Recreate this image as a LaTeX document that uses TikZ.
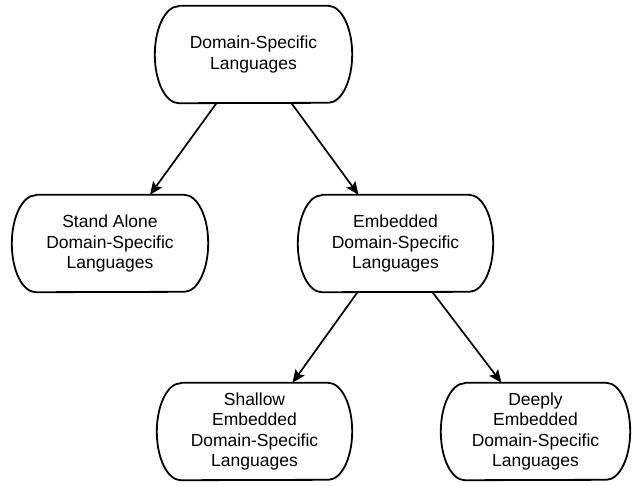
\documentclass[tikz,border=0pt]{standalone}
\usepackage{fontspec}
\setmainfont{Liberation Sans}
\usetikzlibrary{arrows.meta,calc}
\newcommand\pillshape[1]{%
  \draw[pillline] ($(#1.north west)+(24,0)$) -- ($(#1.north east)+(-24,0)$)
    arc[start angle=90,end angle=-90,x radius=24,y radius=-48.5]
    -- ($(#1.south west)+(24,0)$)
    arc[start angle=270,end angle=90,x radius=24,y radius=-48.5] -- cycle;}
\begin{document}
\begin{tikzpicture}[x=1pt,y=-1pt,
  pillline/.style={line width=1.8pt,line join=round},
  pilltext/.style={draw=none,inner sep=0pt,minimum height=97pt,align=center,
     font=\fontsize{17.5}{20.5}\selectfont},
  link/.style={line width=1.7pt,-{Stealth[length=13pt,width=11pt,inset=2.5pt]}}]
\useasboundingbox (0,0) rectangle (632,485);
\node[pilltext,minimum width=197pt] (top) at (253.5,54.5) {Domain-Specific\\Languages};
\node[pilltext,minimum width=196pt] (sa) at (110,243.5) {Stand Alone\\Domain-Specific\\Languages};
\node[pilltext,minimum width=195pt] (emb) at (395.5,243.5) {Embedded\\Domain-Specific\\Languages};
\node[pilltext,minimum width=195pt] (sh) at (254.5,431.5) {Shallow\\Embedded\\Domain-Specific\\Languages};
\node[pilltext,minimum width=189pt] (dp) at (535.5,431.5) {Deeply\\Embedded\\Domain-Specific\\Languages};
\pillshape{top}
\pillshape{sa}
\pillshape{emb}
\pillshape{sh}
\pillshape{dp}
\draw[link] ([xshift=-37pt]top.south) -- ([xshift=40pt]sa.north);
\draw[link] ([xshift=38pt]top.south) -- ([xshift=-37pt]emb.north);
\draw[link] ([xshift=-38pt]emb.south) -- ([xshift=38pt]sh.north);
\draw[link] ([xshift=37pt]emb.south) -- ([xshift=-34pt]dp.north);
\end{tikzpicture}
\end{document}
